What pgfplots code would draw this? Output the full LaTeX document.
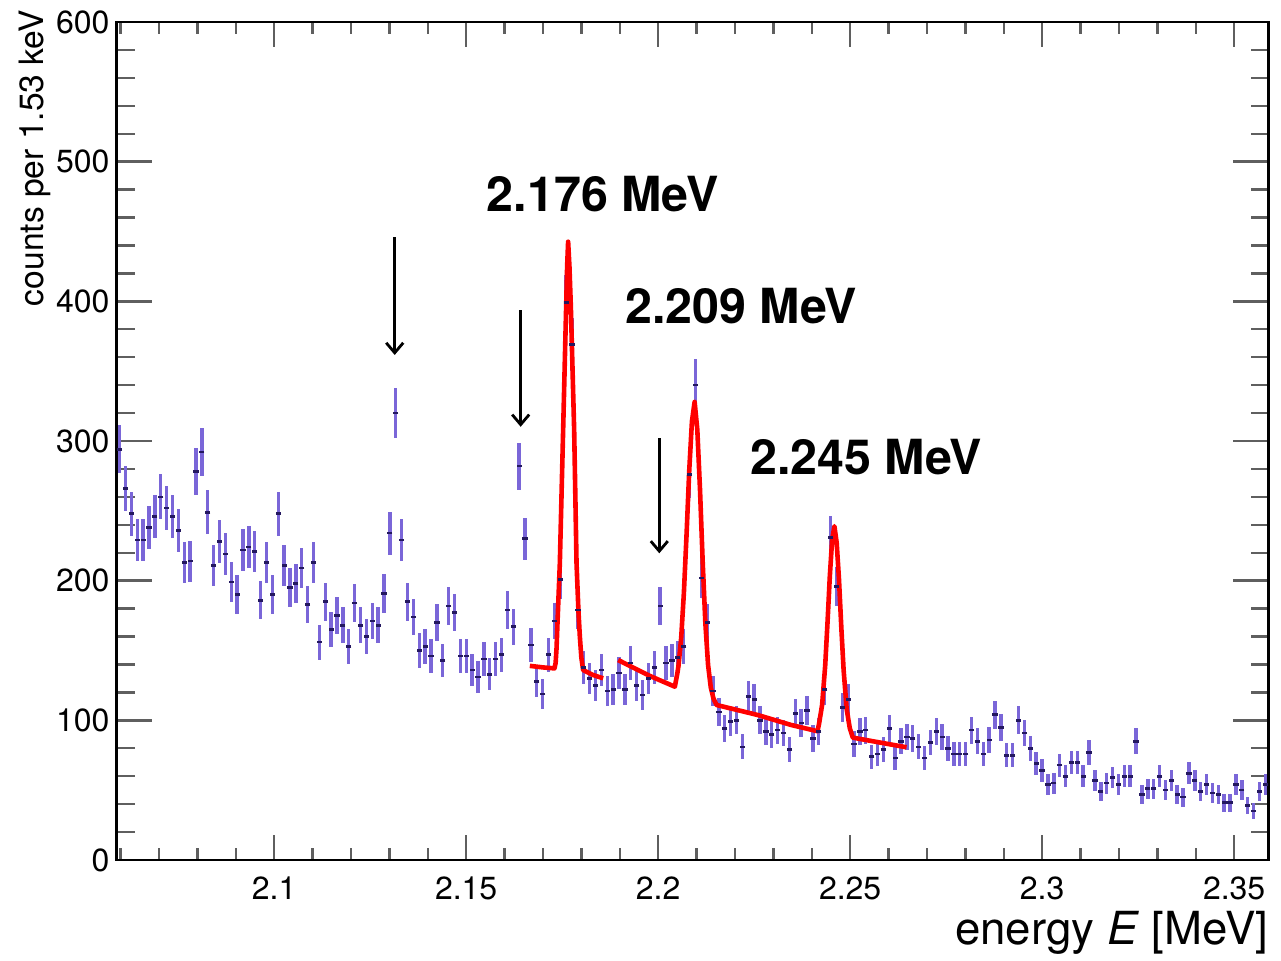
\documentclass[border=0pt]{standalone}
\usepackage{fontspec}
\setmainfont{TeX Gyre Heros}
\usepackage{pgfplots}
\pgfplotsset{compat=1.18}
\usepackage{pgfplotstable}
\usetikzlibrary{arrows.meta}

\definecolor{barcol}{RGB}{122,102,216}
\definecolor{markcol}{RGB}{36,24,96}
\definecolor{tickgray}{RGB}{95,95,95}

% counts per 1.53 keV bin (bin centre in MeV)
\pgfplotstableread{
E c
2.059765 294
2.061295 266
2.062825 248
2.064355 229
2.065885 229
2.067415 238
2.068945 246
2.070475 260
2.072005 252
2.073535 246
2.075065 236
2.076595 213
2.078125 214
2.079655 278
2.081185 292
2.082715 249
2.084245 211
2.085775 228
2.087305 219
2.088835 199
2.090365 190
2.091895 222
2.093425 224
2.094955 221
2.096485 186
2.098015 213
2.099545 190
2.101075 248
2.102605 211
2.104135 195
2.105665 198
2.107195 209
2.108725 183
2.110255 213
2.111785 156
2.113315 185
2.114845 165
2.116375 175
2.117905 168
2.119435 153
2.120965 184
2.122495 168
2.124025 160
2.125555 171
2.127085 168
2.128615 191
2.130145 234
2.131675 320
2.133205 229
2.134735 185
2.136265 174
2.137795 150
2.139325 153
2.140855 146
2.142385 170
2.143915 143
2.145445 182
2.146975 177
2.148505 146
2.150035 146
2.151565 136
2.153095 131
2.154625 144
2.156155 133
2.157685 144
2.159215 147
2.160745 179
2.162275 167
2.163805 282
2.165335 230
2.166865 154
2.168395 128
2.169925 119
2.171455 147
2.172985 171
2.174515 201
2.176045 399
2.177575 369
2.179105 179
2.180635 138
2.182165 130
2.183695 125
2.185225 136
2.186755 121
2.188285 122
2.189815 134
2.191345 122
2.192875 141
2.194405 125
2.195935 118
2.197465 130
2.198995 138
2.200525 182
2.202055 141
2.203585 143
2.205115 145
2.206645 153
2.208175 276
2.209705 340
2.211235 202
2.212765 170
2.214295 121
2.215825 106
2.217355 94
2.218885 99
2.220415 100
2.221945 81
2.223475 117
2.225005 115
2.226535 100
2.228065 92
2.229595 90
2.231125 93
2.232655 91
2.234185 79
2.235715 105
2.237245 98
2.238775 107
2.240305 87
2.241835 92
2.243365 122
2.244895 231
2.246425 196
2.247955 109
2.249485 115
2.251015 83
2.252545 92
2.254075 93
2.255605 74
2.257135 76
2.258665 79
2.260195 94
2.261725 73
2.263255 85
2.264785 88
2.266315 87
2.267845 81
2.269375 73
2.270905 84
2.272435 92
2.273965 88
2.275495 80
2.277025 76
2.278555 76
2.280085 76
2.281615 93
2.283145 85
2.284675 76
2.286205 86
2.287735 104
2.289265 95
2.290795 75
2.292325 75
2.293855 100
2.295385 91
2.296915 80
2.298445 69
2.299975 64
2.301505 54
2.303035 55
2.304565 68
2.306095 60
2.307625 70
2.309155 70
2.310685 60
2.312215 77
2.313745 57
2.315275 49
2.316805 55
2.318335 59
2.319865 54
2.321395 60
2.322925 60
2.324455 85
2.325985 47
2.327515 51
2.329045 51
2.330575 60
2.332105 50
2.333635 57
2.335165 47
2.336695 45
2.338225 62
2.339755 57
2.341285 49
2.342815 54
2.344345 48
2.345875 47
2.347405 41
2.348935 41
2.350465 54
2.351995 50
2.353525 39
2.355055 35
2.356585 49
2.358115 54
}\spectrum

% fitted line shape around 2.176 MeV
\pgfplotstableread{
E f
2.16659 139.0
2.17000 137.9
2.17300 137.2
2.17330 141.0
2.17355 152.0
2.17380 170.6
2.17440 212.4
2.17526 307.9
2.17590 380.0
2.17630 425.0
2.17656 442.7
2.17690 425.0
2.17727 396.0
2.17813 307.9
2.17875 212.4
2.17925 178.0
2.17961 160.0
2.18000 145.0
2.18047 136.0
2.18300 132.5
2.18568 130.1
}\fitA

% fitted line shapes around 2.209 and 2.245 MeV
\pgfplotstableread{
E f
2.18958 143.2
2.19784 131.8
2.20435 124.1
2.20500 133.6
2.20530 139.0
2.20600 159.0
2.20670 191.0
2.20740 233.0
2.20810 279.0
2.20880 314.0
2.20950 328.0
2.21020 308.2
2.21090 265.4
2.21160 213.5
2.21230 169.4
2.21300 139.8
2.21370 123.7
2.21440 115.7
2.21521 111.0
2.22596 103.8
2.23461 96.7
2.24150 92.2
2.24190 97.5
2.24270 111.0
2.24350 139.0
2.24410 169.6
2.24470 202.7
2.24530 229.0
2.24590 239.0
2.24650 227.0
2.24710 200.7
2.24770 166.6
2.24830 136.1
2.24910 108.0
2.24990 94.5
2.25070 87.6
2.26469 80.7
}\fitB

\pgfplotsset{
  specframe/.style={
    scale only axis, width=576pt, height=419pt,
    at={(0,0)}, anchor=south west,
    xmin=2.059, xmax=2.359, ymin=0, ymax=600,
    axis line style={line width=1.3pt, black},
    tick style={line width=1.2pt, tickgray},
    tick align=inside,
  },
}

\begin{document}
\begin{tikzpicture}
\path[use as bounding box] (-58.35pt,-50pt) rectangle (582.15pt,430pt);

% vertical scale: ticks, labels and title
\begin{axis}[specframe,
  xtick=\empty, minor xtick={},
  ytick={0,100,200,300,400,500,600},
  yticklabels={0,100,200,300,400,500,600},
  minor ytick={0,20,...,600},
  major tick length=17.8pt, minor tick length=8.9pt,
  yticklabel style={font=\fontsize{16}{19}\selectfont, inner sep=0pt, xshift=-3.4pt},
  ylabel={counts per 1.53 keV},
  every axis y label/.style={at={([xshift=-36.8pt,yshift=6.3pt]rel axis cs:0,1)},
    rotate=90, anchor=base east, inner sep=0pt,
    font=\fontsize{16.8}{20}\selectfont},
]
\end{axis}

% spectrum, fits and annotations
\begin{axis}[specframe,
  ytick=\empty, minor ytick={},
  xtick={2.1,2.15,2.2,2.25,2.3,2.35},
  xticklabels={2.1,2.15,2.2,2.25,2.3,2.35},
  minor xtick={2.06,2.07,2.08,2.09,2.11,2.12,2.13,2.14,2.16,2.17,2.18,2.19,2.21,2.22,2.23,2.24,2.26,2.27,2.28,2.29,2.31,2.32,2.33,2.34,2.35},
  major tick length=12.5pt, minor tick length=5.9pt,
  xticklabel style={font=\fontsize{16}{19}\selectfont, inner sep=0pt, yshift=-8.2pt},
  xlabel={energy \textit{E} [MeV]},
  every axis x label/.style={at={([yshift=-42pt]rel axis cs:1,0)},
    anchor=base east, inner sep=0pt,
    font=\fontsize{22.8}{27}\selectfont},
]
\addplot[only marks, mark=-, mark size=1.3pt,
  mark options={line width=1.3pt, color=markcol},
  error bars/.cd, y dir=both, y explicit, error mark=none,
  error bar style={line width=1.7pt, color=barcol}]
  table[x=E, y=c, y error expr={sqrt(\thisrow{c})}] {\spectrum};

\addplot[no marks, red, line width=2.3pt, line join=round] table[x=E, y=f] {\fitA};
\addplot[no marks, red, line width=2.3pt, line join=round] table[x=E, y=f] {\fitB};

\draw[line width=1.4pt, -{Straight Barb[length=5pt, width=8.5pt]}]
  (axis cs:2.1314,446) -- (axis cs:2.1314,361.6);
\draw[line width=1.4pt, -{Straight Barb[length=5pt, width=8.5pt]}]
  (axis cs:2.1642,393.8) -- (axis cs:2.1642,310.2);
\draw[line width=1.4pt, -{Straight Barb[length=5pt, width=8.5pt]}]
  (axis cs:2.2003,301.9) -- (axis cs:2.2003,219.6);

\node[anchor=base west, inner sep=0pt, font=\bfseries\fontsize{24.2}{29}\selectfont]
  at (axis cs:2.15531,464.2) {2.176 MeV};
\node[anchor=base west, inner sep=0pt, font=\bfseries\fontsize{24.2}{29}\selectfont]
  at (axis cs:2.19133,384.3) {2.209 MeV};
\node[anchor=base west, inner sep=0pt, font=\bfseries\fontsize{24.2}{29}\selectfont]
  at (axis cs:2.22388,275.7) {2.245 MeV};
\end{axis}
\end{tikzpicture}
\end{document}
